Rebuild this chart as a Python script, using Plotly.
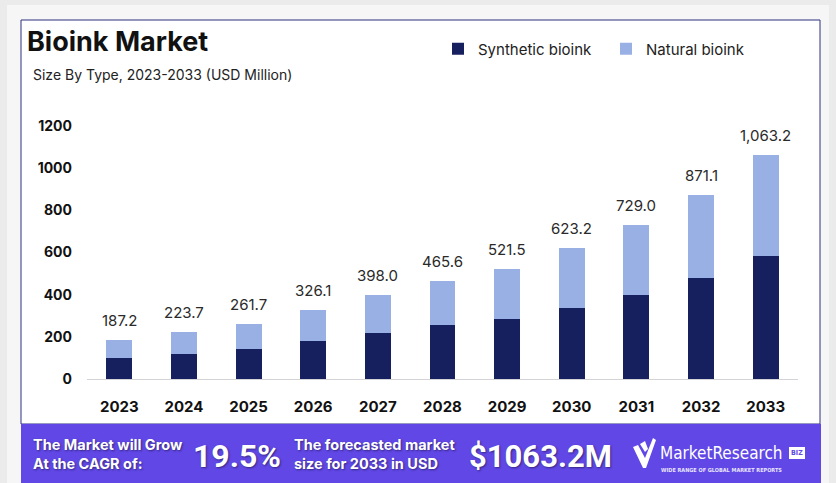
import plotly.graph_objects as go

years = ["2023", "2024", "2025", "2026", "2027", "2028", "2029", "2030", "2031", "2032", "2033"]
totals = [187.2, 223.7, 261.7, 326.1, 398.0, 465.6, 521.5, 623.2, 729.0, 871.1, 1063.2]
synthetic = [102, 118, 143, 180, 216, 254, 284, 339, 398, 477, 584]
natural = [round(t - s, 1) for t, s in zip(totals, synthetic)]
total_labels = ["187.2", "223.7", "261.7", "326.1", "398.0", "465.6", "521.5", "623.2", "729.0", "871.1", "1,063.2"]
y_ticks = [0, 200, 400, 600, 800, 1000, 1200]

W, H = 836, 483
L, R, T, B = 87, 38, 126, 104
PW, PH = W - L - R, H - T - B

def px(x):
    return (x - L) / PW

def py(y):
    return (H - B - y) / PH

FONT = "Inter, Roboto, Arial, sans-serif"
SYN_C = "#17205f"
NAT_C = "#98b0e4"
PURPLE = "#6047e6"

fig = go.Figure()
fig.add_trace(go.Bar(name="Synthetic bioink", x=years, y=synthetic, marker_color=SYN_C,
                     marker_line_width=0))
fig.add_trace(go.Bar(name="Natural bioink", x=years, y=natural, marker_color=NAT_C,
                     marker_line_width=0))

annotations = []
for i, (tot, lab) in enumerate(zip(totals, total_labels)):
    annotations.append(dict(x=i, y=tot, xref="x", yref="y", text=lab, showarrow=False,
                            yanchor="bottom", yshift=8,
                            font=dict(family=FONT, size=15, color="#2a2a2a")))

# Title & subtitle
annotations.append(dict(x=px(25), y=py(42), xref="paper", yref="paper", xanchor="left", yanchor="middle",
                        text="<b>Bioink Market</b>", showarrow=False,
                        font=dict(family=FONT, size=27, color="#111111")))
annotations.append(dict(x=px(31), y=py(74), xref="paper", yref="paper", xanchor="left", yanchor="middle",
                        text="Size By Type, 2023-2033 (USD Million)", showarrow=False,
                        font=dict(family=FONT, size=14, color="#222222")))

shadow = "1px 1px 2px rgba(0,0,0,0.45)"
# Banner texts
annotations.append(dict(x=px(31), y=py(454), xref="paper", yref="paper", xanchor="left", yanchor="middle",
                        text="<b>The Market will Grow<br>At the CAGR of:</b>", showarrow=False, align="left",
                        font=dict(family=FONT, size=14.5, color="white", shadow=shadow)))
annotations.append(dict(x=px(191), y=py(456), xref="paper", yref="paper", xanchor="left", yanchor="middle",
                        text="<b>19.5%</b>", showarrow=False,
                        font=dict(family="Roboto, Arial, sans-serif", size=32, color="white", shadow=shadow)))
annotations.append(dict(x=px(292), y=py(454), xref="paper", yref="paper", xanchor="left", yanchor="middle",
                        text="<b>The forecasted market<br>size for 2033 in USD</b>", showarrow=False, align="left",
                        font=dict(family=FONT, size=14.5, color="white", shadow=shadow)))
annotations.append(dict(x=px(467), y=py(456), xref="paper", yref="paper", xanchor="left", yanchor="middle",
                        text="<b>$1063.2M</b>", showarrow=False,
                        font=dict(family="Roboto, Arial, sans-serif", size=31, color="white", shadow=shadow)))
annotations.append(dict(x=px(658), y=py(453), xref="paper", yref="paper", xanchor="left", yanchor="middle",
                        text="MarketResearch", showarrow=False,
                        font=dict(family="Liberation Sans Narrow, DejaVu Sans Condensed, Arial Narrow, sans-serif",
                                  size=17, color="white")))
annotations.append(dict(x=px(659), y=py(470), xref="paper", yref="paper", xanchor="left", yanchor="middle",
                        text="<b>WIDE RANGE OF GLOBAL MARKET REPORTS</b>", showarrow=False,
                        font=dict(family="DejaVu Sans Condensed, Arial, sans-serif", size=5.5, color="#e8e4ff")))
annotations.append(dict(x=px(797), y=py(453), xref="paper", yref="paper", xanchor="center", yanchor="middle",
                        text="<b>BIZ</b>", showarrow=False,
                        font=dict(family="DejaVu Sans Condensed, Arial, sans-serif", size=7, color=PURPLE)))

def rect(x0, y0, x1, y1, fill, line_color=None, line_width=0, layer="below"):
    return dict(type="rect", xref="paper", yref="paper", x0=px(x0), x1=px(x1), y0=py(y1), y1=py(y0),
                fillcolor=fill, line=dict(color=line_color or fill, width=line_width), layer=layer)

def path(points, fill):
    d = "M " + " L ".join(f"{px(a)},{py(b)}" for a, b in points) + " Z"
    return dict(type="path", xref="paper", yref="paper", path=d, fillcolor=fill,
                line=dict(width=0), layer="above")

shapes = [
    rect(7, 5, 829, 484, "#f6f6f6"),
    rect(21, 20, 820, 424, "white", "#2e3180", 1),
    rect(21, 424, 821, 484, PURPLE, layer="above"),
    rect(789, 447, 805, 459, "white", layer="above"),
    # logo check-mark
    path([(633, 447), (638, 445), (645, 458), (653, 438), (656, 440), (646, 468), (643, 468)], "white"),
    path([(640, 444), (645, 441), (648, 449), (645, 452)], "white"),
]

fig.update_layout(
    width=W, height=H,
    margin=dict(l=L, r=R, t=T, b=B, autoexpand=False),
    paper_bgcolor="#ebebeb",
    plot_bgcolor="white",
    barmode="stack",
    bargap=0.6,
    showlegend=True,
    legend=dict(orientation="h", x=438 / W, y=1 - 49 / H, xanchor="left", yanchor="middle",
                xref="container", yref="container",
                font=dict(family=FONT, size=15, color="#222222"),
                bgcolor="rgba(0,0,0,0)", traceorder="normal",
                entrywidth=123, entrywidthmode="pixels"),
    xaxis=dict(type="category", showgrid=False, zeroline=False, showline=True, linecolor="#d3d3d8",
               linewidth=1, ticks="", ticklabelstandoff=14, automargin=False, range=[-0.5, 10.5],
               tickfont=dict(family=FONT, size=15, color="#111111", weight="bold")),
    yaxis=dict(range=[0, 1200], tickvals=y_ticks, showgrid=False, zeroline=False, showline=False,
               ticks="", ticklabelstandoff=14, automargin=False,
               tickfont=dict(family=FONT, size=14, color="#111111", weight="bold")),
    annotations=annotations,
    shapes=shapes,
)

fig.write_html("out.html", config={"displayModeBar": False},
               post_script="document.body.style.margin='0';document.body.style.padding='0';")
